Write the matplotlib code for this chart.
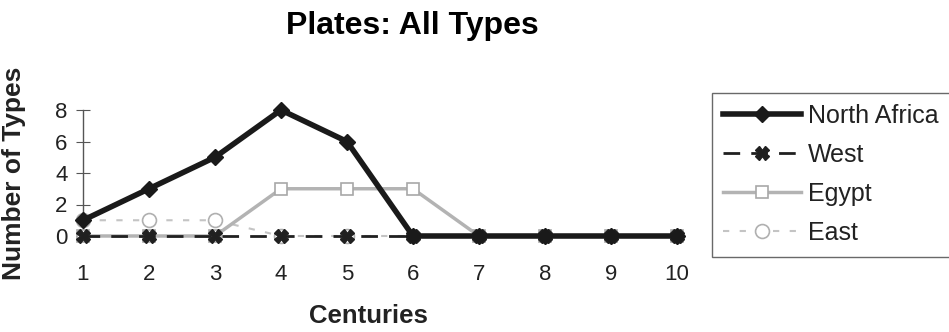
import matplotlib
matplotlib.use("Agg")
import matplotlib.pyplot as plt

plt.rcParams['font.family'] = ['Liberation Sans', 'DejaVu Sans']

centuries = [1, 2, 3, 4, 5, 6, 7, 8, 9, 10]
north_africa = [1, 3, 5, 8, 6, 0, 0, 0, 0, 0]
west = [0, 0, 0, 0, 0, 0, 0, 0, 0, 0]
egypt = [0, 0, 0, 3, 3, 3, 0, 0, 0, 0]
east = [1, 1, 1, 0, 0, 0, 0, 0, 0, 0]

W, H = 949, 332
fig = plt.figure(figsize=(W / 100, H / 100), dpi=100)
ax = fig.add_axes([83 / W, (H - 236) / H, (700 - 83) / W, 126 / H])

ax.plot(centuries, east, color='#c4c4c4', lw=1.5, ls=(0, (3, 5)),
        marker='o', ms=10, mfc='white', mec='#b0b0b0', mew=1.2,
        label='East', clip_on=False, zorder=2)
ax.plot(centuries, egypt, color='#b3b3b3', lw=2.5,
        marker='s', ms=9, mfc='white', mec='#a8a8a8', mew=1.2,
        label='Egypt', clip_on=False, zorder=3)
ax.plot(centuries, west, color='#202020', lw=2, ls=(0, (6, 4)),
        marker='X', ms=10, mfc='#202020', mec='#202020',
        label='West', clip_on=False, zorder=4)
ax.plot(centuries, north_africa, color='#1a1a1a', lw=4,
        marker='D', ms=8, mfc='#1a1a1a', mec='#1a1a1a',
        label='North Africa', clip_on=False, zorder=5)

ax.set_xlim(1, 10.35)
ax.set_ylim(0, 8)
ax.set_xticks(centuries)
ax.set_yticks([0, 2, 4, 6, 8])
for side in ['top', 'right', 'bottom']:
    ax.spines[side].set_visible(False)
ax.spines['left'].set_color('#555555')
ax.spines['left'].set_linewidth(1)
ax.tick_params(axis='y', direction='inout', length=10, color='#555555',
               labelsize=16, pad=6, labelcolor='#222222')
ax.tick_params(axis='x', length=0, labelsize=16, pad=20, labelcolor='#222222')

ax.set_xlabel('Centuries', fontsize=18.5, fontweight='bold', va='baseline',
              color='#222222')
ax.xaxis.set_label_coords((368 - 83) / 617, (236 - 323) / 126)
ax.set_ylabel('Number of Types', fontsize=19, fontweight='bold',
              color='#222222')
ax.yaxis.set_label_coords((26 - 83) / 617, 0.5)

fig.text(412 / W, (H - 34) / H, 'Plates: All Types', ha='center',
         va='baseline', fontsize=23, fontweight='bold')

handles, labels = ax.get_legend_handles_labels()
order = [3, 2, 1, 0]
leg = fig.legend([handles[i] for i in order], [labels[i] for i in order],
                 loc='upper left', bbox_to_anchor=(712 / W, 1 - 93 / H),
                 fontsize=18, frameon=True, fancybox=False,
                 handlelength=3.1, handletextpad=0.28, labelspacing=0.6,
                 borderpad=0.45, borderaxespad=0)
leg.get_frame().set_edgecolor('#444444')
leg.get_frame().set_linewidth(1)
for t in leg.get_texts():
    t.set_color('#222222')

fig.savefig('out.png', dpi=100)
